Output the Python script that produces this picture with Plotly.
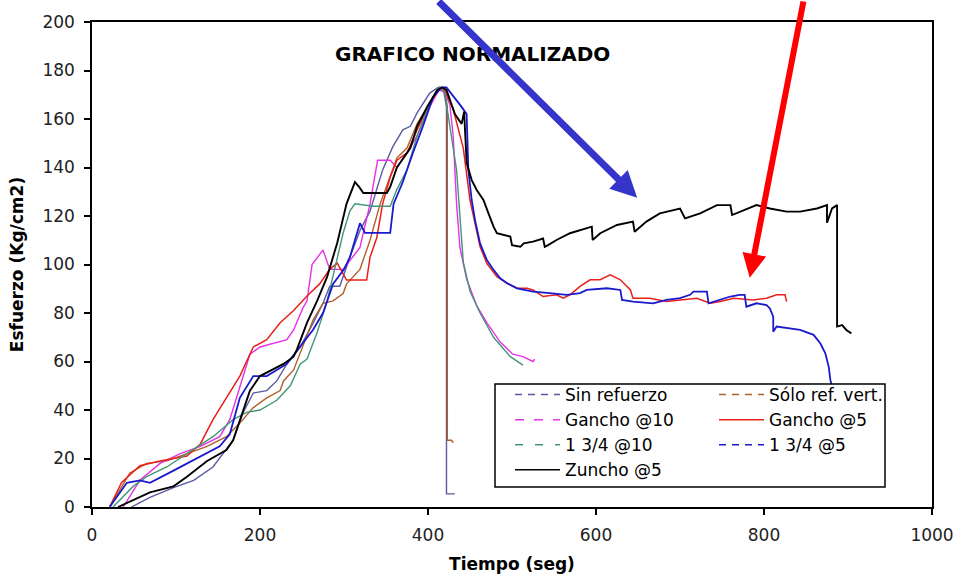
import plotly.graph_objects as go

# ---------------- data ----------------
sin_x = [47, 69, 97, 121, 144, 168, 180, 192, 208, 220, 232, 248, 262, 275, 283, 295, 307, 319, 331, 346,
         358, 370, 379, 387, 402, 412, 418, 422, 422, 422, 432]
sin_y = [0, 4, 8, 11, 16.5, 27.6, 39, 47, 48, 52, 59, 66, 75, 84, 91, 91, 103, 114, 122, 139,
         148.5, 155.5, 157, 162.5, 170.7, 173, 173, 165, 27, 5.4, 5.4]

solo_x = [21, 45, 65, 89, 113, 137, 160, 176, 192, 208, 224, 228, 240, 251, 263, 275, 287, 299, 303, 319,
          331, 343, 355, 363, 375, 387, 402, 414, 420, 423, 423, 428, 430]
solo_y = [0, 14, 18, 19, 22, 25, 29, 34.6, 41, 45, 48, 52, 56.5, 66, 77, 84, 85, 88, 92, 98,
          110, 125, 136, 144, 148, 158, 166.5, 173, 172, 165, 27.5, 27.5, 26.5]

g10_x = [37, 57, 81, 105, 129, 152, 164, 176, 188, 200, 216, 232, 240, 251, 256, 262, 275, 283, 299, 319,
         331, 340, 355, 363, 375, 387, 402, 413, 420, 426, 430, 434, 438, 446, 458, 470, 486, 501, 513,
         525, 527]
g10_y = [0, 11, 18, 22, 25, 29, 36, 49.5, 63, 66, 67.6, 69, 73, 82, 85, 100, 106, 98, 98, 107,
         125, 143, 143, 140, 146, 153, 165, 172, 171, 166, 153, 125, 107, 94, 83, 76, 68, 63, 62,
         60, 61]

g5_x = [21, 35, 57, 81, 113, 129, 144, 160, 176, 192, 208, 224, 240, 256, 271, 283, 292, 303, 327, 331,
        339, 346, 355, 363, 375, 387, 402, 414, 420, 430, 442, 450, 456, 462, 470, 482, 494, 506, 518,
        525, 537, 553, 561, 569, 581, 593, 605, 617, 629, 641, 644, 664, 684, 704, 720, 736, 748, 764,
        787, 803, 815, 825, 827]
g5_y = [0, 10, 17, 19, 21, 26, 36, 45, 54, 66, 69, 76, 81, 87, 92, 98, 100.6, 93.6, 93.6, 103,
        111, 125, 136, 143, 146, 155.5, 166.5, 173, 172, 164, 148, 126.6, 117, 107.3, 100.5, 95, 92.3, 90.2, 90.2,
        89.5, 86.8, 87.5, 86.1, 87.5, 91, 93.7, 93.7, 95.7, 93.7, 89.5, 86.1, 86.1, 84.7, 85.4, 86.1, 84, 84.7, 86.1,
        85.4, 86.1, 87.5, 87.5, 84.7]

t10_x = [25, 49, 65, 89, 113, 144, 168, 184, 200, 220, 236, 248, 256, 268, 280, 287, 295, 299, 307, 313,
         335, 355, 363, 375, 387, 402, 414, 420, 426, 434, 442, 450, 462, 478, 498, 513]
t10_y = [0, 8.5, 12.5, 16.5, 22, 29, 36, 39, 40, 44, 50, 59, 61, 72, 85, 95, 106, 113, 122, 125,
         124, 124, 131, 139, 153, 166.5, 173, 171, 157, 139, 101, 89, 80, 70, 62, 58.5]

t5_x = [21, 41.5, 57, 69, 97, 129, 152, 164, 176, 192, 208, 232, 248, 263, 275, 287, 300, 307, 319, 325,
        355, 359, 370, 382, 394, 406, 416, 422, 440, 446, 448, 452, 456, 462, 470, 478, 486, 494, 506,
        525, 545, 565, 581, 589, 613, 629, 631, 644, 668, 684, 700, 712, 716, 732, 734, 748, 760, 771,
        777, 779, 791, 803, 807, 811, 811, 815, 843, 859, 867, 873, 877, 879, 882, 885, 890]
t5_y = [0, 10, 11, 10, 15, 21, 25, 30, 45, 54, 54, 59, 66, 73, 80, 92, 98, 103, 117, 113,
        113, 125, 134, 146, 157, 169, 173, 173, 165, 162, 139, 126.6, 118.3, 108.7, 101.9, 97.8, 94.3, 92.3, 90.2,
        88.8, 88.2, 87.5, 88.2, 89.5, 90.2, 89.5, 85.4, 84.7, 84, 85.4, 86.1, 87.5, 88.8, 88.8, 84, 85.4, 86.8, 87.5,
        87.5, 82.6, 84, 83.3, 81.9, 78.5, 72.3, 74.4, 73, 71, 67.5, 63.4, 57.9, 52.4, 48, 40, 30]

zun_x = [31, 49, 69, 97, 113, 137, 160, 168, 176, 188, 200, 228, 240, 244, 256, 268, 280, 292, 303, 313,
         318, 323, 351, 355, 363, 379, 387, 399, 411, 417, 422, 432, 440, 443, 446, 452, 458, 466, 472,
         478, 482, 490, 498, 500, 510, 514, 525, 537, 539, 543, 553, 569, 581, 595, 596, 605, 625, 644,
         646, 660, 676, 700, 706, 724, 744, 760, 762, 791, 807, 827, 843, 863, 875, 875, 881, 887, 887,
         893, 898, 904]
zun_y = [0, 3, 6, 8.5, 12.5, 19, 23.5, 27.5, 36, 48, 54, 59, 62, 65, 76, 85, 95, 109, 125, 134,
         132, 129.5, 129.5, 132, 140, 148, 157, 165, 172, 173, 172, 162, 158, 163, 142, 134.8, 130.7, 126.6, 121.1,
         115.6, 112.9, 112.2, 111.5, 108, 107.3, 108.7, 109.4, 110.7, 107.3, 108, 110.1, 112.9, 114.2, 115.6, 110.1,
         112.9, 116.3, 117.7, 113.5, 117.7, 121.1, 123.1, 119, 121.1, 124.5, 124.5, 120.4, 124.5, 123.1, 121.8, 121.8,
         123.1, 124.5, 117.2, 123.1, 124.5, 74.4, 75, 73, 71.6]

names = ["Sin refuerzo", "Sólo ref. vert.", "Gancho @10", "Gancho @5", "1 3/4 @10", "1 3/4 @5", "Zuncho @5"]
xs = [sin_x, solo_x, g10_x, g5_x, t10_x, t5_x, zun_x]
ys = [sin_y, solo_y, g10_y, g5_y, t10_y, t5_y, zun_y]
colors = ["#5a5aa0", "#b0602a", "#e632e6", "#e8201c", "#43967a", "#1a1acc", "#000000"]
widths = [1.4, 1.4, 1.4, 1.5, 1.4, 1.8, 1.9]
legend_dash = ["7px,6px", "7px,6px", "9px,10px", "solid", "8px,12px", "7px,6px", "solid"]
legend_of = ["legend", "legend2", "legend", "legend2", "legend", "legend2", "legend"]

xticks = [0, 200, 400, 600, 800, 1000]
yticks = [0, 20, 40, 60, 80, 100, 120, 140, 160, 180, 200]

FONT = "DejaVu Sans"

fig = go.Figure()
for n, x, y, c, w in zip(names, xs, ys, colors, widths):
    fig.add_trace(go.Scatter(x=x, y=y, mode="lines", name=n, showlegend=False,
                             line=dict(color=c, width=w), hoverinfo="skip"))
# legend entries (dash style as shown in the legend box)
for n, c, d, lg in zip(names, colors, legend_dash, legend_of):
    fig.add_trace(go.Scatter(x=[None], y=[None], mode="lines", name=n, legend=lg,
                             line=dict(color=c, width=1.5, dash=d)))

axis_common = dict(showgrid=False, zeroline=False, showline=True, linecolor="black", linewidth=1.5,
                   mirror=True, ticks="outside", ticklen=6, tickwidth=1.5, tickcolor="black",
                   tickfont=dict(family=FONT, size=17, color="#222"))

# plot area spans x 92..932 px, y 22..507 px of the window
fig.update_layout(
    width=958, height=581,
    margin=dict(l=92, r=26, t=22, b=74, autoexpand=False),
    paper_bgcolor="white", plot_bgcolor="white",
    xaxis=dict(range=[0, 1000], tickvals=xticks, ticklabelstandoff=6,
               title=dict(text="Tiempo (seg)", standoff=14,
                          font=dict(family=FONT, size=17, weight="bold", color="black")),
               **axis_common),
    yaxis=dict(range=[0, 200], tickvals=yticks, ticklabelstandoff=6,
               title=dict(text="Esfuerzo (Kg/cm2)", standoff=14,
                          font=dict(family=FONT, size=17, weight="bold", color="black")),
               **axis_common),
    legend=dict(x=(510 - 92) / 840, xanchor="left", y=(507 - 377) / 485, yanchor="top",
                bgcolor="rgba(0,0,0,0)", borderwidth=0, itemwidth=45, tracegroupgap=0,
                font=dict(family=FONT, size=17, color="black")),
    legend2=dict(x=(714 - 92) / 840, xanchor="left", y=(507 - 377) / 485, yanchor="top",
                 bgcolor="rgba(0,0,0,0)", borderwidth=0, itemwidth=45, tracegroupgap=0,
                 font=dict(family=FONT, size=17, color="black")),
    shapes=[dict(type="rect", xref="paper", yref="paper", layer="above",
                 x0=(495 - 92) / 840, x1=(885 - 92) / 840, y0=(507 - 487) / 485, y1=(507 - 384) / 485,
                 line=dict(color="black", width=1.5), fillcolor="white")],
    annotations=[
        dict(text="GRAFICO NORMALIZADO", xref="paper", yref="paper", x=(472 - 92) / 840,
             y=(507 - 54) / 485, xanchor="center", yanchor="middle", showarrow=False,
             font=dict(family=FONT, size=20, weight="bold", color="black")),
        dict(text="", x=649, y=127.5, xref="x", yref="y", showarrow=True, ax=-200, ay=-208,
             arrowcolor="#3535cc", arrowwidth=7, arrowhead=2, arrowsize=0.75),
        dict(text="", x=783, y=94.5, xref="x", yref="y", showarrow=True, ax=54, ay=-290,
             arrowcolor="#ff0000", arrowwidth=6, arrowhead=2, arrowsize=0.8),
    ],
)

fig.write_html("out.html", config={"displayModeBar": False},
               post_script="document.body.style.margin='0px';")
